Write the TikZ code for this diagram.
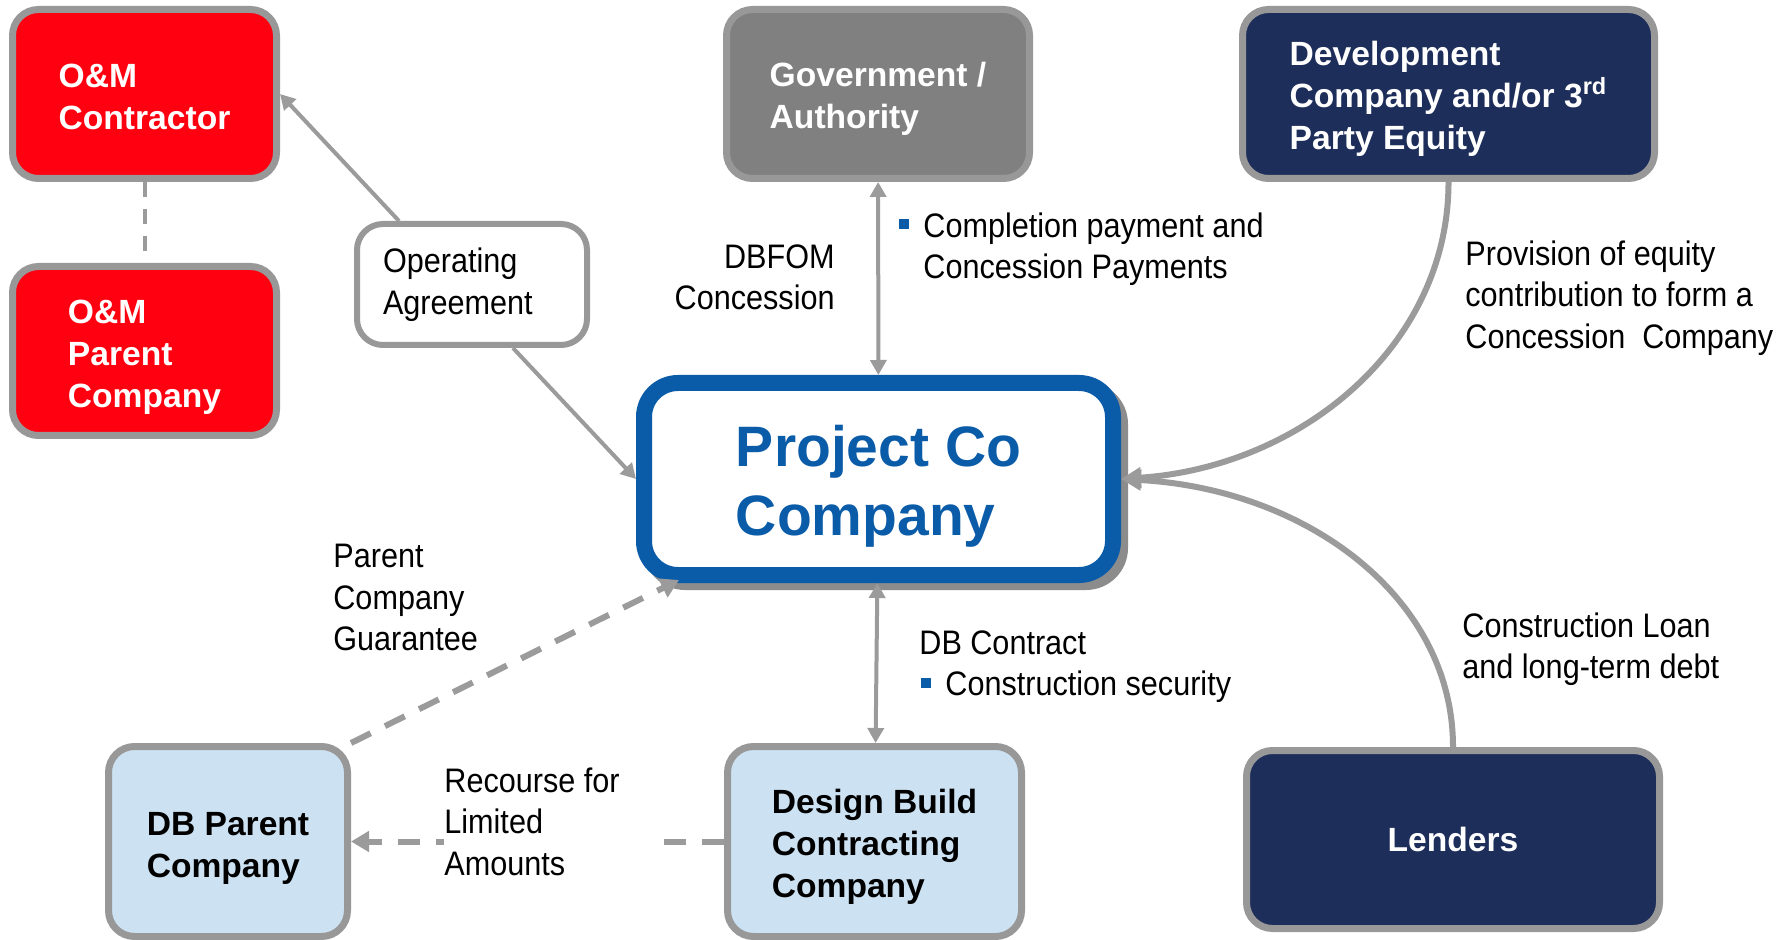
\documentclass[tikz,border=0pt]{standalone}
\usepackage{fontspec}
\setmainfont{Liberation Sans}
\newfontfamily\narrowfont[FakeStretch=0.9]{Liberation Sans}
\usetikzlibrary{arrows.meta,shadows,calc}

\definecolor{omred}{RGB}{255,0,16}
\definecolor{boxgray}{RGB}{152,152,152}
\definecolor{govgray}{RGB}{128,128,128}
\definecolor{navy}{RGB}{30,46,90}
\definecolor{paleblue}{RGB}{204,226,242}
\definecolor{pblue}{RGB}{11,92,168}
\definecolor{linegray}{RGB}{155,155,155}
\definecolor{shadowgray}{RGB}{140,140,140}

% small blue square bullet
\newcommand\bulletsq{\textcolor{pblue}{\rule[4pt]{5pt}{5pt}}\hspace{7pt}}
% invisible strut that lowers a centred text block a little
\newcommand\capstrut[1]{\rule{0pt}{#1}}

\begin{document}
\begin{tikzpicture}[x=0.5pt,y=-0.5pt,
  party/.style={draw=boxgray, line width=3.5pt, rounded corners=13pt, inner sep=0pt,
    align=left, font=\bfseries\fontsize{16.8}{21}\selectfont},
  note/.style={inner sep=0pt, align=left, font=\narrowfont\fontsize{17}{20.75}\selectfont},
  conn/.style={draw=linegray, line width=2pt},
  endarrow/.style={-{Triangle[length=7.5pt,width=8pt]}},
  botharrow/.style={{Triangle[length=7.5pt,width=8pt]}-{Triangle[length=7.5pt,width=8pt]}},
  dasharrow/.style={-{Triangle[length=9pt,width=10pt]}},
  thindash/.style={dash pattern=on 7.5pt off 6pt},
  thickdash/.style={line width=3pt, dash pattern=on 11pt off 8pt},
  curve/.style={draw=linegray, line width=3pt, -{Triangle[length=10pt,width=10pt]}}
]
\fill[white] (0,0) rectangle (1786,940);
\useasboundingbox (0,0) rectangle (1786,940);

% parties
\node[party, fill=omred, text=white, minimum width=132pt, minimum height=84.5pt]
  (omc) at (144.5,94) {\capstrut{14.7pt}O\&M\\Contractor};
\node[party, fill=omred, text=white, minimum width=132pt, minimum height=84.5pt]
  (omp) at (144.5,351) {\capstrut{18pt}O\&M\\Parent\\Company};
\node[party, fill=govgray, text=white, minimum width=151.5pt, minimum height=84.5pt]
  (gov) at (878,94) {\capstrut{17pt}Government /\\Authority};
\node[party, fill=navy, text=white, minimum width=206pt, minimum height=84.5pt]
  (dev) at (1448.5,94) {\capstrut{17pt}Development\\Company and/or 3\textsuperscript{rd}\\Party Equity};
\node[party, fill=white, line width=3pt, minimum width=115pt, minimum height=60.5pt,
  inner xsep=13pt, text width=89pt, align=flush left,
  font=\narrowfont\fontsize{17}{20.75}\selectfont]
  (oa) at (472,284.5) {Operating\\Agreement};

\node[draw=pblue, line width=8pt, fill=white, rounded corners=17pt,
  minimum width=234.5pt, minimum height=96pt, inner sep=0pt, align=left, text=pblue,
  font=\bfseries\fontsize{28.5}{34.5}\selectfont,
  drop shadow={shadow xshift=3.5pt, shadow yshift=-3.5pt, fill=shadowgray,
    draw=shadowgray, line width=8pt, opacity=1}]
  (pc) at (878.5,479) {\capstrut{28.2pt}Project Co\\Company};

\node[party, fill=paleblue, text=black, minimum width=119.5pt, minimum height=95pt]
  (dbp) at (228,841.5) {\capstrut{18pt}DB Parent\\Company};
\node[party, fill=paleblue, text=black, minimum width=147pt, minimum height=95pt]
  (dbc) at (874.5,841.5) {\capstrut{17.5pt}Design Build\\Contracting\\Company};
\node[party, fill=navy, text=white, align=center, minimum width=206.5pt, minimum height=89pt]
  (len) at (1453,839.5) {Lenders};

% connectors
\draw[conn, thindash] (omc) -- (omp);
\draw[conn, endarrow] ([xshift=-36.5pt]oa.north) -- (omc.east);
\draw[conn, endarrow] ([xshift=20.5pt]oa.south) -- (pc.west);
\draw[conn, botharrow] (gov) -- (pc);
\draw[conn, botharrow] (pc) -- (dbc);
\draw[conn, thickdash, dasharrow] (dbp.north east) -- ($(pc.south west)+(43,-3)$);
\draw[conn, thickdash, dasharrow] (dbc) -- (dbp);
\draw[curve] (dev.south) .. controls +(0,164) and +(180,-12) .. (pc.east);
\draw[curve] (len.north) .. controls +(0,-150) and +(185,10) .. (pc.east);

% relationship labels
\node[note, anchor=north east, align=right] (dbfom) at (835,244) {DBFOM\\Concession};
\node[note, anchor=north west] (pay) at (923,212)
  {\llap{\bulletsq}Completion payment and\\Concession Payments};
\node[note, anchor=north west] (equity) at (1465,240)
  {Provision of equity\\contribution to form a\\Concession\ \ Company};
\node[note, anchor=north west] (pcg) at (333,544) {Parent\\Company\\Guarantee};
\node[note, anchor=north west, fill=white, text width=107pt, align=flush left]
  (rec) at (444,767) {Recourse for\\Limited\\Amounts};
\node[note, anchor=north west] (dbcon) at (919,630)
  {DB Contract\\\hspace*{13pt}\llap{\bulletsq}Construction security};
\node[note, anchor=north west] (loan) at (1462,612) {Construction Loan\\and long-term debt};
\end{tikzpicture}
\end{document}
